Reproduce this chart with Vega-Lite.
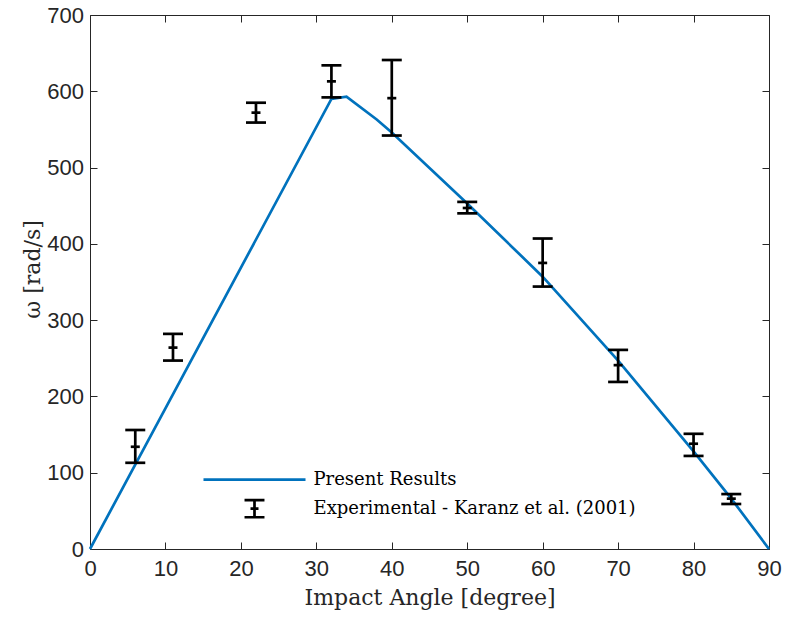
{
  "$schema": "https://vega.github.io/schema/vega-lite/v6.json",
  "autosize": {"type": "none"},
  "padding": {"left": 90, "top": 15, "right": 18, "bottom": 72},
  "width": 679,
  "height": 534,
  "config": {
    "view": {"stroke": null},
    "axis": {
      "domainColor": "#262626",
      "domainWidth": 1,
      "tickColor": "#262626",
      "tickWidth": 1,
      "tickSize": -7,
      "labelFlush": false,
      "labelFont": "Liberation Sans",
      "labelFontSize": 22,
      "labelColor": "#262626",
      "grid": false,
      "titleFont": "DejaVu Serif",
      "titleFontSize": 22,
      "titleFontWeight": "normal",
      "titleColor": "#262626"
    }
  },
  "data": {
    "values": [
      {"series": "Present Results", "angle": 0, "omega": 0},
      {"series": "Present Results", "angle": 32, "omega": 590},
      {"series": "Present Results", "angle": 34, "omega": 593},
      {"series": "Present Results", "angle": 38, "omega": 563},
      {"series": "Present Results", "angle": 40, "omega": 546},
      {"series": "Present Results", "angle": 50, "omega": 453},
      {"series": "Present Results", "angle": 60, "omega": 357},
      {"series": "Present Results", "angle": 70, "omega": 247},
      {"series": "Present Results", "angle": 80, "omega": 128},
      {"series": "Present Results", "angle": 85, "omega": 66},
      {"series": "Present Results", "angle": 90, "omega": 0},
      {"series": "Experimental - Karanz et al. (2001)", "angle": 6, "omega": 134, "lo": 113, "hi": 156},
      {"series": "Experimental - Karanz et al. (2001)", "angle": 11, "omega": 264, "lo": 247, "hi": 282},
      {"series": "Experimental - Karanz et al. (2001)", "angle": 22, "omega": 572, "lo": 559, "hi": 585},
      {"series": "Experimental - Karanz et al. (2001)", "angle": 32, "omega": 613, "lo": 592, "hi": 634},
      {"series": "Experimental - Karanz et al. (2001)", "angle": 40, "omega": 591, "lo": 542, "hi": 641},
      {"series": "Experimental - Karanz et al. (2001)", "angle": 50, "omega": 447, "lo": 440, "hi": 455},
      {"series": "Experimental - Karanz et al. (2001)", "angle": 60, "omega": 375, "lo": 344, "hi": 407},
      {"series": "Experimental - Karanz et al. (2001)", "angle": 70, "omega": 241, "lo": 219, "hi": 261},
      {"series": "Experimental - Karanz et al. (2001)", "angle": 80, "omega": 138, "lo": 122, "hi": 151},
      {"series": "Experimental - Karanz et al. (2001)", "angle": 85, "omega": 66, "lo": 59, "hi": 72}
    ]
  },
  "resolve": {"axis": {"x": "independent", "y": "independent"}},
  "layer": [
    {
      "transform": [{"filter": "datum.series === 'Present Results'"}],
      "mark": {"type": "line", "color": "#0072BD", "strokeWidth": 2.7},
      "encoding": {
        "x": {"field": "angle", "type": "quantitative", "scale": {"domain": [0, 90], "nice": false},
          "axis": {"orient": "bottom", "values": [0,10,20,30,40,50,60,70,80,90], "labelPadding": 16, "title": "Impact Angle [degree]", "titleX": 339.5, "titleY": 55, "titleBaseline": "alphabetic", "titleAnchor": null, "titleAlign": "center"}},
        "y": {"field": "omega", "type": "quantitative", "scale": {"domain": [0, 700], "nice": false},
          "axis": {"orient": "left", "values": [0,100,200,300,400,500,600,700], "labelPadding": 13.5, "title": "ω [rad/s]", "titleX": -51, "titleY": 254, "titleAngle": 270, "titleBaseline": "alphabetic", "titleAlign": "center", "titleAnchor": null}}
      }
    },
    {
      "transform": [{"filter": "datum.series !== 'Present Results'"}],
      "mark": {"type": "rule", "color": "black", "strokeWidth": 2.7, "opacity": 1},
      "encoding": {
        "x": {"field": "angle", "type": "quantitative", "axis": null},
        "y": {"field": "lo", "type": "quantitative", "axis": null},
        "y2": {"field": "hi"}
      }
    },
    {
      "transform": [{"filter": "datum.series !== 'Present Results'"}],
      "mark": {"type": "tick", "orient": "horizontal", "color": "black", "opacity": 1, "size": 20, "thickness": 2.7},
      "encoding": {
        "x": {"field": "angle", "type": "quantitative", "axis": null},
        "y": {"field": "lo", "type": "quantitative", "axis": null}
      }
    },
    {
      "transform": [{"filter": "datum.series !== 'Present Results'"}],
      "mark": {"type": "tick", "orient": "horizontal", "color": "black", "opacity": 1, "size": 20, "thickness": 2.7},
      "encoding": {
        "x": {"field": "angle", "type": "quantitative", "axis": null},
        "y": {"field": "hi", "type": "quantitative", "axis": null}
      }
    },
    {
      "transform": [{"filter": "datum.series !== 'Present Results'"}],
      "mark": {"type": "tick", "orient": "horizontal", "color": "black", "opacity": 1, "size": 9, "thickness": 2.7},
      "encoding": {
        "x": {"field": "angle", "type": "quantitative", "axis": null},
        "y": {"field": "omega", "type": "quantitative", "axis": null}
      }
    },
    {
      "mark": {"type": "point", "opacity": 0, "filled": false},
      "encoding": {
        "x": {"field": "angle", "type": "quantitative",
          "axis": {"orient": "top", "values": [0,10,20,30,40,50,60,70,80,90], "labels": false, "title": null}},
        "y": {"field": "omega", "type": "quantitative",
          "axis": {"orient": "right", "values": [0,100,200,300,400,500,600,700], "labels": false, "title": null}},
        "color": {"field": "series", "type": "nominal",
          "scale": {"domain": ["Present Results", "Experimental - Karanz et al. (2001)"], "range": ["#0072BD", "black"]},
          "legend": {"title": null, "orient": "none", "legendX": 153.5, "legendY": 453.7, "padding": 0,
            "symbolOpacity": 1, "symbolStrokeWidth": 2.7, "symbolSize": 361, "symbolOffset": 0,
            "labelOffset": 48, "labelFont": "DejaVu Serif", "labelFontSize": 18, "labelColor": "black",
            "labelLimit": 0, "rowPadding": 6}},
        "shape": {"field": "series", "type": "nominal",
          "scale": {"domain": ["Present Results", "Experimental - Karanz et al. (2001)"],
            "range": ["M-5.37,0H5.37", "M-1.05,-0.9H1.05M0,-0.9V0.9M-1.05,0.9H1.05M-0.42,0H0.42"]},
          "legend": {"title": null, "orient": "none", "legendX": 153.5, "legendY": 453.7, "padding": 0,
            "symbolOpacity": 1, "symbolStrokeWidth": 2.7, "symbolSize": 361, "symbolOffset": 0,
            "labelOffset": 48, "labelFont": "DejaVu Serif", "labelFontSize": 18, "labelColor": "black",
            "labelLimit": 0, "rowPadding": 6}}
      }
    }
  ]
}
